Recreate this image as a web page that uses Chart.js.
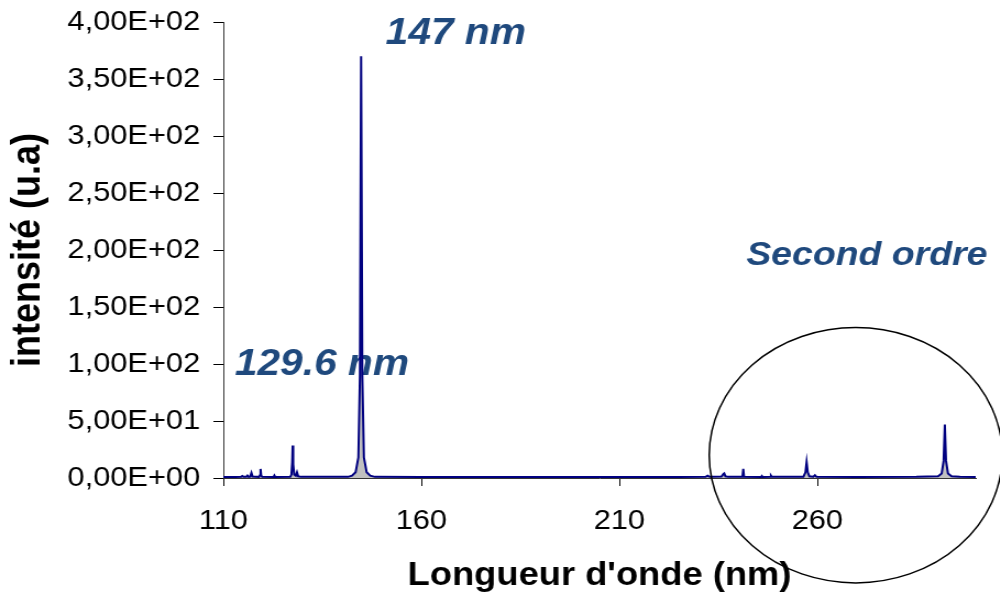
<!DOCTYPE html>
<html>
<head>
<meta charset="utf-8">
<title>Spectre</title>
<script src="https://cdn.jsdelivr.net/npm/chart.js@4.4.0/dist/chart.umd.min.js"></script>
<style>
  html, body { margin: 0; padding: 0; background: #fff; overflow: hidden; }
  /* the source picture is an Excel chart stretched sideways, so stretch ours the same way */
  #wrap { width: 909px; height: 600px; transform: scaleX(1.1); transform-origin: 0 0; }
</style>
</head>
<body>
<div id="wrap"><canvas id="spectre"></canvas></div>
<script>
// wavelength (nm) and intensity (u.a)
const wavelengths = [
  110, 113, 114.5, 114.8, 115.1, 115.8, 116.1, 116.4, 116.8, 117.1, 117.4,
  119.0, 119.25, 119.4, 119.55, 119.8, 122.7, 122.9, 123.1,
  126.9, 127.2, 127.4, 127.5, 127.65, 127.9, 128.3, 128.6, 128.9, 129.6,
  141.5, 142.5, 143.4, 144.1, 144.5, 144.8, 145.1, 145.5, 146.2, 147.1, 148.3,
  160, 175, 190, 205, 225,
  231.8, 232.3, 232.8, 235.8, 236.3, 236.5, 236.8, 237.5,
  241.1, 241.3, 241.5, 245.8, 246.0, 246.2, 248.1, 248.3, 248.5,
  256.5, 257.0, 257.3, 257.6, 258.0, 259.0, 259.4, 259.8,
  270, 285, 290.5, 291.4, 291.9, 292.2, 292.5, 293.0, 293.9, 296, 300
];
const intensities = [
  0.8, 0.9, 1.0, 1.8, 1.0, 1.0, 2.2, 1.0, 1.2, 4.5, 1.2,
  1.0, 2.5, 8.0, 2.5, 1.0, 0.9, 2.2, 0.9,
  1.0, 3.0, 14, 28.5, 12, 3.0, 2.0, 5.0, 1.5, 1.0,
  1.0, 2.0, 5.0, 18, 90, 370, 90, 18, 5.0, 2.0, 1.0,
  0.9, 0.8, 0.9, 0.8, 0.9,
  1.0, 2.0, 1.0, 1.2, 3.5, 4.0, 1.5, 1.0,
  1.0, 8.0, 1.0, 0.9, 1.8, 0.9, 1.0, 2.0, 1.0,
  1.2, 5.0, 14, 5.0, 1.5, 1.2, 2.5, 1.0,
  0.9, 1.0, 1.5, 4.0, 15, 47, 15, 4.0, 1.5, 1.0, 0.9
];

const xTicks = [110, 160, 210, 260];
const yTicks = [0, 50, 100, 150, 200, 250, 300, 350, 400];

// notes placed in data units
const noteTexts = ['147 nm', '129.6 nm', 'Second ordre'];
const noteX = [168.7, 134.9, 272.5];
const noteY = [390, 99, 195];
const ring = { x: 269.7, y: 20, rx: 37, ry: 112 };

function sci(v) {
  if (v === 0) return '0,00E+00';
  const e = Math.floor(Math.log10(Math.abs(v)));
  const m = v / Math.pow(10, e);
  return m.toFixed(2).replace('.', ',') + 'E' + (e < 0 ? '-' : '+') + String(Math.abs(e)).padStart(2, '0');
}

const noteSizes = [37, 37, 34];

const notesPlugin = {
  id: 'notes',
  beforeDatasetsDraw(chart) {
    const { ctx, scales: { x, y } } = chart;
    ctx.save();
    ctx.fillStyle = '#1F497D';
    ctx.textAlign = 'center';
    ctx.textBaseline = 'middle';
    noteTexts.forEach((t, i) => {
      ctx.font = 'italic bold ' + noteSizes[i] + 'px "Liberation Sans", Arial, sans-serif';
      ctx.fillText(t, x.getPixelForValue(noteX[i]), y.getPixelForValue(noteY[i]));
    });
    ctx.restore();
  },
  afterDatasetsDraw(chart) {
    const { ctx, scales: { x, y } } = chart;
    const cx = x.getPixelForValue(ring.x);
    const cy = y.getPixelForValue(ring.y);
    const rx = x.getPixelForValue(ring.x + ring.rx) - cx;
    const ry = cy - y.getPixelForValue(ring.y + ring.ry);
    ctx.save();
    ctx.strokeStyle = '#000';
    ctx.lineWidth = 1.5;
    ctx.beginPath();
    ctx.ellipse(cx, cy, rx, ry, 0, 0, Math.PI * 2);
    ctx.stroke();
    ctx.restore();
  }
};

new Chart(document.getElementById('spectre'), {
  type: 'line',
  data: {
    datasets: [{
      data: wavelengths.map((w, i) => ({ x: w, y: intensities[i] })),
      borderColor: '#000080',
      borderWidth: 2,
      backgroundColor: '#c0c0c0',
      fill: 'origin',
      pointRadius: 0,
      tension: 0
    }]
  },
  options: {
    responsive: true,
    maintainAspectRatio: false,
    animation: false,
    layout: { padding: { top: 22, right: 22, bottom: 0, left: 0 } },
    plugins: { legend: { display: false }, tooltip: { enabled: false } },
    scales: {
      x: {
        type: 'linear',
        min: 110,
        max: 300,
        afterBuildTicks: s => { s.ticks = xTicks.map(v => ({ value: v })); },
        afterFit: s => { s.height = 122; },
        grid: { drawOnChartArea: false, tickLength: 8, color: '#000' },
        border: { color: '#333', width: 1 },
        ticks: {
          color: '#000',
          padding: 18,
          maxRotation: 0,
          font: { family: '"Liberation Sans", Arial, sans-serif', size: 28 }
        },
        title: {
          display: true,
          text: "Longueur d'onde (nm)",
          color: '#000',
          padding: { top: 0, bottom: 4 },
          font: { family: '"Liberation Sans", Arial, sans-serif', size: 33, weight: 'bold' }
        }
      },
      y: {
        min: 0,
        max: 400,
        afterBuildTicks: s => { s.ticks = yTicks.map(v => ({ value: v })); },
        // fixed width, and don't let the top label push the plot down
        afterFit: s => { s.width = 203; s.paddingTop = 0; s.paddingBottom = 0; },
        grid: { drawOnChartArea: false, tickLength: 9, color: '#000' },
        border: { color: '#333', width: 1 },
        ticks: {
          color: '#000',
          padding: 12,
          callback: v => sci(v),
          font: { family: '"Liberation Sans", Arial, sans-serif', size: 28 }
        },
        title: {
          display: true,
          text: 'intensité (u.a)',
          color: '#000',
          padding: { top: 4, bottom: 0 },
          font: { family: '"Liberation Sans", Arial, sans-serif', size: 36, weight: 'bold' }
        }
      }
    }
  },
  plugins: [notesPlugin]
});
</script>
</body>
</html>
